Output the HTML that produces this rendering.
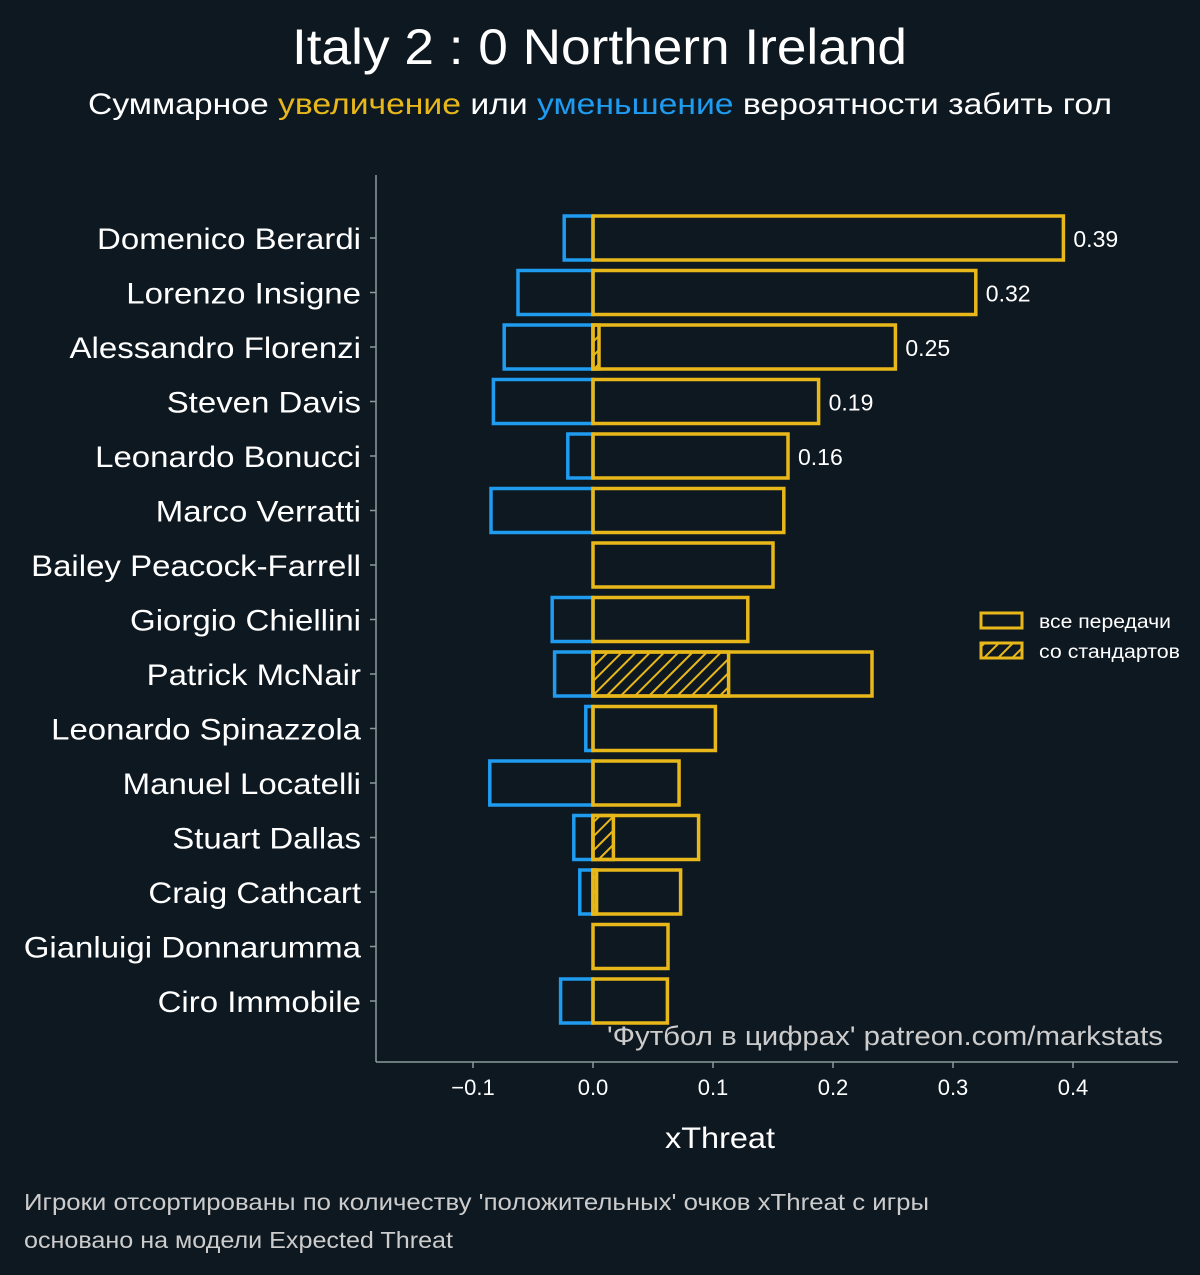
<!DOCTYPE html>
<html><head><meta charset="utf-8"><style>
body{margin:0;background:#0e1821;overflow:hidden;}
svg{display:block;}
svg text{font-family:"Liberation Sans",sans-serif;}
</style></head><body>
<svg id="c" width="1200" height="1275" viewBox="0 0 1200 1275" xmlns="http://www.w3.org/2000/svg">
<defs><pattern id="hatch" patternUnits="userSpaceOnUse" width="10" height="10" patternTransform="rotate(45)"><rect width="10" height="10" fill="#0e1821"/><line x1="0" y1="0" x2="0" y2="10" stroke="#e8b71a" stroke-width="4"/></pattern></defs>
<rect width="1200" height="1275" fill="#0e1821"/>
<text x="292" y="64" textLength="615" lengthAdjust="spacingAndGlyphs" font-size="50" fill="#ffffff">Italy 2 : 0 Northern Ireland</text>
<text x="88" y="114" textLength="1024" lengthAdjust="spacingAndGlyphs" font-size="30" fill="#ffffff">Суммарное <tspan fill="#e8b71a">увеличение</tspan> или <tspan fill="#1f9bf0">уменьшение</tspan> вероятности забить гол</text>
<g id="plot"></g>
<text x="607" y="1045" textLength="556" lengthAdjust="spacingAndGlyphs" font-size="27" fill="#cccccc">'Футбол в цифрах' patreon.com/markstats</text>
<text x="665" y="1148" textLength="110" lengthAdjust="spacingAndGlyphs" font-size="30" fill="#ffffff">xThreat</text>
<text x="24" y="1210" textLength="905" lengthAdjust="spacingAndGlyphs" font-size="23" fill="#cccccc">Игроки отсортированы по количеству 'положительных' очков xThreat с игры</text>
<text x="24" y="1248" textLength="429" lengthAdjust="spacingAndGlyphs" font-size="23" fill="#cccccc">основано на модели Expected Threat</text>
<g>
<rect x="981" y="613" width="41" height="15" fill="none" stroke="#e8b71a" stroke-width="3"/>
<text x="1039" y="628" textLength="132" lengthAdjust="spacingAndGlyphs" font-size="19" fill="#ffffff">все передачи</text>
<rect x="981" y="643" width="41" height="15" fill="url(#hatch)" stroke="#e8b71a" stroke-width="3"/>
<text x="1039" y="658" textLength="141" lengthAdjust="spacingAndGlyphs" font-size="19" fill="#ffffff">со стандартов</text>
</g>
</svg>
<script>
const players=["Domenico Berardi","Lorenzo Insigne","Alessandro Florenzi","Steven Davis","Leonardo Bonucci","Marco Verratti","Bailey Peacock-Farrell","Giorgio Chiellini","Patrick McNair","Leonardo Spinazzola","Manuel Locatelli","Stuart Dallas","Craig Cathcart","Gianluigi Donnarumma","Ciro Immobile"];
const positive=[0.392,0.319,0.252,0.188,0.1625,0.159,0.15,0.129,0.2325,0.102,0.0717,0.088,0.073,0.0625,0.062];
const negative=[-0.024,-0.0625,-0.074,-0.083,-0.021,-0.085,0,-0.034,-0.032,-0.006,-0.086,-0.016,-0.011,0,-0.027];
const setPiece=[0,0,0.005,0,0,0,0,0,0.113,0,0,0.017,0.003,0,0];
const labels=["0.39","0.32","0.25","0.19","0.16","","","","","","","","","",""];
const ticks=[-0.1,0,0.1,0.2,0.3,0.4];
const tickLabels=["−0.1","0.0","0.1","0.2","0.3","0.4"];
const NS="http://www.w3.org/2000/svg";
const g=document.getElementById('plot');
const x=v=>593+v*1200;
const y=i=>238+i*54.5;
const H=44;
function mk(t,a){const e=document.createElementNS(NS,t);for(const k in a)e.setAttribute(k,a[k]);g.appendChild(e);return e;}
let ax=mk('line',{x1:376,y1:175,x2:376,y2:1062,stroke:'#8a9a9a','stroke-width':1.5});


let bx=mk('line',{x1:376,y1:1062,x2:1178,y2:1062,stroke:'#8a9a9a','stroke-width':1.5});


ticks.forEach((t,i)=>{
 let l=mk('line',{x1:x(t),y1:1062,x2:x(t),y2:1068,stroke:'#8a9a9a','stroke-width':1.5});
 
 
 let tx=mk('text',{x:x(t),y:1095,'text-anchor':'middle','font-size':22,fill:'#ffffff'});
 
 
 tx.textContent=tickLabels[i];
});
players.forEach((p,i)=>{
 const cy=y(i);
 let tk=mk('line',{x1:370,y1:cy,x2:376,y2:cy,stroke:'#8a9a9a','stroke-width':1.5});
 
 
 let t=mk('text',{x:0,y:0,'text-anchor':'end','font-size':30,fill:'#ffffff',transform:'translate(361,'+(cy+11)+') scale(1.1,1)'});
 
 
 t.textContent=p;
 if(negative[i]<0){
  let r=mk('rect',{x:x(negative[i]),y:cy-H/2,width:x(0)-x(negative[i]),height:H,fill:'none',stroke:'#1f9bf0','stroke-width':3.5});
  
  
 }
 if(setPiece[i]>0){
  let s=mk('rect',{x:x(0),y:cy-H/2,width:x(setPiece[i])-x(0),height:H,fill:'url(#hatch)',stroke:'#e8b71a','stroke-width':3.5});
  
  
 }
 let r=mk('rect',{x:x(0),y:cy-H/2,width:x(positive[i])-x(0),height:H,fill:'none',stroke:'#e8b71a','stroke-width':3.5});
 
 
 if(labels[i]){
  let v=mk('text',{x:x(positive[i])+10,y:cy+9,'font-size':23,fill:'#ffffff'});
  
  
  v.textContent=labels[i];
 }
});
</script>
</body></html>
